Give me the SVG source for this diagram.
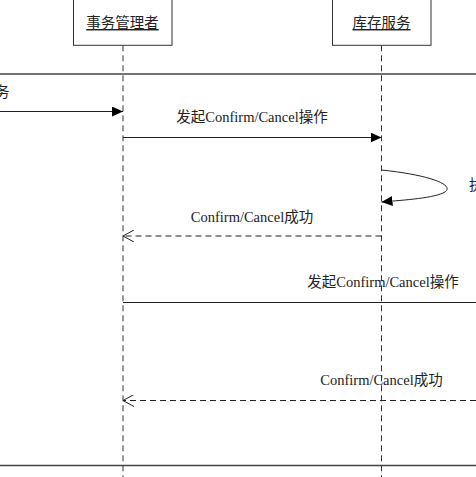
<svg xmlns="http://www.w3.org/2000/svg" width="476" height="477" viewBox="0 0 476 477">
<style>
.box{fill:#fff;stroke:#333;stroke-width:1}
.t{font-family:"Liberation Serif","Noto Sans CJK SC",serif;font-size:14.5px;fill:#222}
.life{stroke:#333;stroke-width:1;stroke-dasharray:6 4;fill:none}
.msg{stroke:#222;stroke-width:1;fill:none}
.ret{stroke:#222;stroke-width:1;stroke-dasharray:6 4;fill:none}
.frame{stroke:#444;stroke-width:1.6}
</style>
<defs>
<marker id="fill" markerWidth="12" markerHeight="10" refX="11" refY="5" orient="auto" markerUnits="userSpaceOnUse">
<path d="M0,0 L11,5 L0,10 Z" fill="#000"/>
</marker>
<marker id="open" markerWidth="12" markerHeight="12" refX="11" refY="6" orient="auto" markerUnits="userSpaceOnUse">
<path d="M0,0 L11,6 L0,12" fill="none" stroke="#222" stroke-width="1"/>
</marker>
</defs>
<rect width="476" height="477" fill="#fff"/>
<g id="frame">
<line class="frame" x1="0" y1="74" x2="476" y2="74"/>
<line class="frame" x1="0" y1="465.5" x2="476" y2="465.5"/>
</g>
<g id="manager">
<rect class="box" x="73.5" y="-1" width="98.5" height="46.3"/>
<text class="t" x="122.5" y="28" text-anchor="middle" text-decoration="underline">事务管理者</text>
<line class="life" x1="123" y1="45.3" x2="123" y2="477"/>
</g>
<g id="inventory">
<rect class="box" x="332.5" y="-1" width="98.5" height="46.3"/>
<text class="t" x="381.5" y="28" text-anchor="middle" text-decoration="underline">库存服务</text>
<line class="life" x1="381.5" y1="45.3" x2="381.5" y2="477"/>
</g>
<g id="connectors">
<line class="msg" x1="0" y1="111.5" x2="123" y2="111.5" marker-end="url(#fill)"/>
<text class="t" x="-5" y="97">务</text>
<line class="msg" x1="123" y1="137.5" x2="381.5" y2="137.5" marker-end="url(#fill)"/>
<text class="t" x="252" y="122" text-anchor="middle">发起Confirm/Cancel操作</text>
<path class="msg" d="M381.5,170 C430,175 455,185 445,192 C435,198 405,200 381.5,202" marker-end="url(#fill)"/>
<text class="t" x="469" y="190">执</text>
<line class="ret" x1="381.5" y1="236" x2="123" y2="236" marker-end="url(#open)"/>
<text class="t" x="252" y="222" text-anchor="middle">Confirm/Cancel成功</text>
<line class="msg" x1="123" y1="302.5" x2="476" y2="302.5"/>
<text class="t" x="383" y="287" text-anchor="middle">发起Confirm/Cancel操作</text>
<line class="ret" x1="476" y1="400.5" x2="123" y2="400.5" marker-end="url(#open)"/>
<text class="t" x="381.5" y="385" text-anchor="middle">Confirm/Cancel成功</text>
</g>
</svg>
